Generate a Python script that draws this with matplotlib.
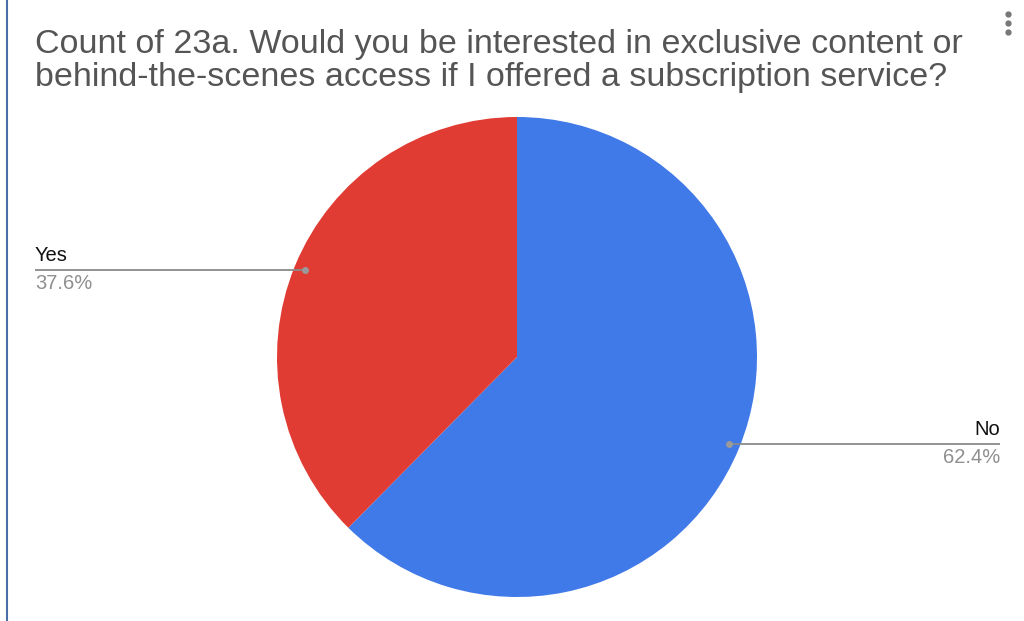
import numpy as np
import matplotlib

matplotlib.use("Agg")
import matplotlib.pyplot as plt

labels = ["No", "Yes"]
shares = [62.4, 37.6]
colors = ["#4079e8", "#e03c33"]
title = ("Count of 23a. Would you be interested in exclusive content or\n"
         "behind-the-scenes access if I offered a subscription service?")

W, H = 1024, 621
CX, CY, R = 517, H - 357, 240

fig = plt.figure(figsize=(W / 100, H / 100), dpi=100)
ax = fig.add_axes([0, 0, 1, 1])

ax.pie(shares, colors=colors, startangle=90, counterclock=False,
       center=(CX, CY), radius=R, wedgeprops=dict(linewidth=0))

# pie() resets the view, so fix the pixel frame afterwards
ax.set_xlim(0, W)
ax.set_ylim(0, H)
ax.set_aspect("equal")
ax.axis("off")

# leader lines to the wedge midpoints
start = 90.0
for lab, val in zip(labels, shares):
    mid = start - val / 100 * 360 / 2
    start -= val / 100 * 360
    px = CX + 0.955 * R * np.cos(np.radians(mid))
    py = CY + 0.955 * R * np.sin(np.radians(mid))
    if px < CX:
        x_end, ha = 35, "left"
    else:
        x_end, ha = 1000, "right"
    ax.plot([px, x_end], [py, py], color="#8a8a8a", lw=1.3, solid_capstyle="butt")
    ax.plot(px, py, "o", color="#9a9a9a", ms=4)
    ax.text(x_end, py + 5, lab, ha=ha, va="bottom", fontsize=14.5,
            family="Liberation Sans", color="#111111")
    ax.text(x_end, py - 4, f"{val}%", ha=ha, va="top", fontsize=14.5,
            family="Liberation Sans", color="#8f8f8f")

ax.text(35, H - 29, title, ha="left", va="top", fontsize=24.5,
        family="Liberation Sans", color="#555555", linespacing=1.08)

# menu dots and window edge from the screenshot
ax.plot([1008] * 3, [H - 14, H - 23, H - 32], "o", color="#777777", ms=3.5)
ax.plot([7, 7], [0, H], color="#4a6fa8", lw=1.5)

fig.savefig("out.png", dpi=100)
